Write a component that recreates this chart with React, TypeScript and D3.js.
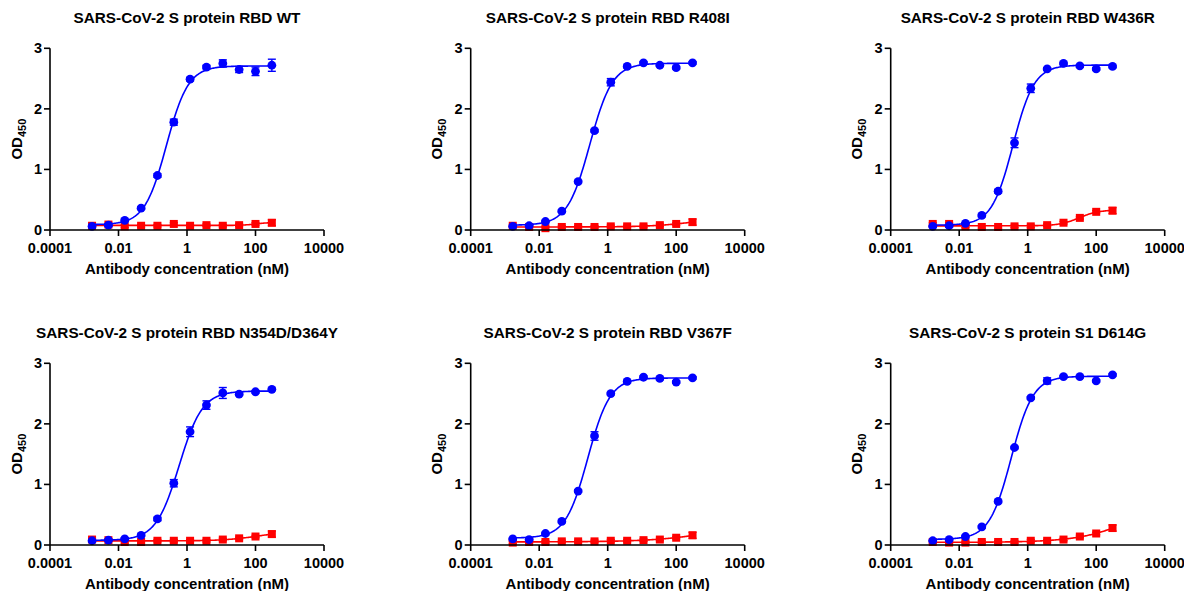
import React, { useMemo } from "react";
import * as d3 from "d3";

// 3-fold dilution series from 300 nM (nM)
const concentrations = [0.00169, 0.00508, 0.0152, 0.0457, 0.137, 0.412, 1.23, 3.7, 11.1, 33.3, 100, 300];

const titles = [
  "SARS-CoV-2 S protein RBD WT",
  "SARS-CoV-2 S protein RBD R408I",
  "SARS-CoV-2 S protein RBD W436R",
  "SARS-CoV-2 S protein RBD N354D/D364Y",
  "SARS-CoV-2 S protein RBD V367F",
  "SARS-CoV-2 S protein S1 D614G",
];

// Blue (antibody binding) OD450 means
const blueWT = [0.06, 0.08, 0.16, 0.36, 0.9, 1.78, 2.49, 2.69, 2.75, 2.65, 2.62, 2.72];
const blueR408I = [0.06, 0.07, 0.14, 0.31, 0.8, 1.64, 2.44, 2.7, 2.76, 2.72, 2.68, 2.76];
const blueW436R = [0.06, 0.07, 0.11, 0.24, 0.64, 1.44, 2.34, 2.66, 2.75, 2.71, 2.66, 2.7];
const blueN354D = [0.07, 0.08, 0.1, 0.16, 0.43, 1.02, 1.87, 2.31, 2.51, 2.49, 2.53, 2.57];
const blueV367F = [0.1, 0.09, 0.19, 0.39, 0.89, 1.8, 2.5, 2.7, 2.77, 2.75, 2.69, 2.76];
const blueD614G = [0.07, 0.09, 0.14, 0.3, 0.72, 1.61, 2.43, 2.71, 2.78, 2.78, 2.71, 2.81];

// Blue SEM
const blueErrWT = [0.02, 0.02, 0.02, 0.02, 0.03, 0.05, 0.03, 0.03, 0.06, 0.05, 0.07, 0.1];
const blueErrR408I = [0.01, 0.01, 0.02, 0.02, 0.02, 0.02, 0.06, 0.02, 0.02, 0.02, 0.02, 0.02];
const blueErrW436R = [0.01, 0.01, 0.01, 0.02, 0.03, 0.08, 0.07, 0.02, 0.02, 0.02, 0.02, 0.02];
const blueErrN354D = [0.01, 0.01, 0.02, 0.02, 0.03, 0.06, 0.08, 0.07, 0.09, 0.02, 0.02, 0.02];
const blueErrV367F = [0.01, 0.01, 0.02, 0.02, 0.02, 0.07, 0.02, 0.02, 0.02, 0.02, 0.02, 0.02];
const blueErrD614G = [0.01, 0.01, 0.02, 0.02, 0.02, 0.02, 0.02, 0.05, 0.02, 0.02, 0.02, 0.02];

// Red (control) OD450 means
const redWT = [0.07, 0.09, 0.06, 0.07, 0.07, 0.1, 0.07, 0.08, 0.07, 0.08, 0.1, 0.12];
const redR408I = [0.07, 0.05, 0.03, 0.05, 0.05, 0.05, 0.06, 0.06, 0.06, 0.08, 0.1, 0.13];
const redW436R = [0.1, 0.1, 0.06, 0.05, 0.05, 0.06, 0.06, 0.08, 0.12, 0.2, 0.3, 0.32];
const redN354D = [0.09, 0.08, 0.05, 0.05, 0.07, 0.07, 0.07, 0.07, 0.09, 0.11, 0.14, 0.18];
const redV367F = [0.04, 0.05, 0.05, 0.06, 0.06, 0.06, 0.07, 0.07, 0.08, 0.09, 0.12, 0.16];
const redD614G = [0.05, 0.04, 0.04, 0.05, 0.05, 0.05, 0.07, 0.07, 0.09, 0.14, 0.19, 0.28];

const redErr = [0.02, 0.02, 0.02, 0.02, 0.02, 0.02, 0.02, 0.02, 0.02, 0.02, 0.02, 0.05];

const blueSeries = [blueWT, blueR408I, blueW436R, blueN354D, blueV367F, blueD614G];
const blueErrSeries = [blueErrWT, blueErrR408I, blueErrW436R, blueErrN354D, blueErrV367F, blueErrD614G];
const redSeries = [redWT, redR408I, redW436R, redN354D, redV367F, redD614G];

const xTicks = [0.0001, 0.01, 1, 100, 10000];
const xTickLabels = ["0.0001", "0.01", "1", "100", "10000"];
const yTicks = [0, 1, 2, 3];

const BLUE = "#0000ff";
const RED = "#ff0000";
const FONT = "Liberation Sans, Arial, sans-serif";

// 4-parameter logistic fit (grid search over logEC50 and Hill, linear LS for bottom/top)
function fit4pl(xs: number[], ys: number[]) {
  const lx = xs.map((x) => Math.log10(x));
  const n = ys.length;
  let best = { b: 0, t: 0, c: 0, h: 1, sse: Infinity };
  for (let c = -3.5; c <= 3.5; c += 0.01) {
    for (let h = 0.4; h <= 3.0; h += 0.02) {
      const f = lx.map((x) => 1 / (1 + Math.pow(10, (c - x) * h)));
      const mf = d3.mean(f)!;
      const my = d3.mean(ys)!;
      let sfy = 0, sff = 0;
      for (let i = 0; i < n; i++) {
        sfy += (f[i] - mf) * (ys[i] - my);
        sff += (f[i] - mf) * (f[i] - mf);
      }
      if (sff < 1e-4) continue;
      const a = sfy / sff;
      if (a < 0) continue;
      const b = my - a * mf;
      let sse = 0;
      for (let i = 0; i < n; i++) {
        const r = ys[i] - (b + a * f[i]);
        sse += r * r;
      }
      if (sse < best.sse) best = { b, t: b + a, c, h, sse };
    }
  }
  return (x: number) => best.b + (best.t - best.b) / (1 + Math.pow(10, (best.c - Math.log10(x)) * best.h));
}

const panelX = [50, 470.7, 890.7];
const panelTop = [48.3, 363.3];
const PW = 274;
const PH = 181.7;

function Panel({ idx }: { idx: number }) {
  const col = idx % 3;
  const row = Math.floor(idx / 3);
  const x0 = panelX[col];
  const y0 = panelTop[row];
  const x = d3.scaleLog().domain([0.0001, 10000]).range([x0, x0 + PW]);
  const y = d3.scaleLinear().domain([0, 3]).range([y0 + PH, y0]);
  const blue = blueSeries[idx];
  const blueErr = blueErrSeries[idx];
  const red = redSeries[idx];

  const curves = useMemo(() => {
    const fb = fit4pl(concentrations, blue);
    const fr = fit4pl(concentrations, red);
    const lo = Math.log10(concentrations[0]);
    const hi = Math.log10(concentrations[concentrations.length - 1]);
    const pts = d3.range(0, 201).map((i) => Math.pow(10, lo + ((hi - lo) * i) / 200));
    const line = (fn: (v: number) => number) =>
      d3.line<number>().x((c) => x(c)).y((c) => y(fn(c)))(pts) || "";
    return { b: line(fb), r: line(fr) };
  }, [idx]);

  const axisY = y(0);
  const cx = (x0 + x0 + PW) / 2;

  return (
    <g>
      <text x={cx} y={y0 - 25} textAnchor="middle" fontFamily={FONT} fontWeight="bold" fontSize={15.3} fill="#000">
        {titles[idx]}
      </text>
      {/* red series */}
      <path d={curves.r} fill="none" stroke={RED} strokeWidth={1.6} />
      {red.map((v, i) => {
        const px = x(concentrations[i]);
        const e = redErr[i];
        return (
          <g key={"re" + i}>
            <line x1={px} x2={px} y1={y(v - e)} y2={y(v + e)} stroke={RED} strokeWidth={1.4} />
            <line x1={px - 4} x2={px + 4} y1={y(v + e)} y2={y(v + e)} stroke={RED} strokeWidth={1.4} />
            <line x1={px - 4} x2={px + 4} y1={y(v - e)} y2={y(v - e)} stroke={RED} strokeWidth={1.4} />
            <rect x={px - 4} y={y(v) - 4} width={8} height={8} fill={RED} />
          </g>
        );
      })}
      {/* blue series */}
      <path d={curves.b} fill="none" stroke={BLUE} strokeWidth={1.6} />
      {blue.map((v, i) => {
        const px = x(concentrations[i]);
        const e = blueErr[i];
        return (
          <g key={"be" + i}>
            <line x1={px} x2={px} y1={y(v - e)} y2={y(v + e)} stroke={BLUE} strokeWidth={1.4} />
            <line x1={px - 4} x2={px + 4} y1={y(v + e)} y2={y(v + e)} stroke={BLUE} strokeWidth={1.4} />
            <line x1={px - 4} x2={px + 4} y1={y(v - e)} y2={y(v - e)} stroke={BLUE} strokeWidth={1.4} />
            <circle cx={px} cy={y(v)} r={4.4} fill={BLUE} />
          </g>
        );
      })}
      {/* axes */}
      <line x1={x0} x2={x0 + PW} y1={axisY} y2={axisY} stroke="#000" strokeWidth={1.6} />
      <line x1={x0} x2={x0} y1={y(3)} y2={axisY} stroke="#000" strokeWidth={1.6} />
      {xTicks.map((t, i) => (
        <g key={"xt" + i}>
          <line x1={x(t)} x2={x(t)} y1={axisY} y2={axisY + 6} stroke="#000" strokeWidth={1.6} />
          <text x={x(t)} y={axisY + 23} textAnchor="middle" fontFamily={FONT} fontWeight="bold" fontSize={14.5} fill="#000">
            {xTickLabels[i]}
          </text>
        </g>
      ))}
      {yTicks.map((t) => (
        <g key={"yt" + t}>
          <line x1={x0 - 6} x2={x0} y1={y(t)} y2={y(t)} stroke="#000" strokeWidth={1.6} />
          <text x={x0 - 8} y={y(t) + 5} textAnchor="end" fontFamily={FONT} fontWeight="bold" fontSize={14.5} fill="#000">
            {t}
          </text>
        </g>
      ))}
      <text x={cx} y={axisY + 43.5} textAnchor="middle" fontFamily={FONT} fontWeight="bold" fontSize={15} fill="#000">
        Antibody concentration (nM)
      </text>
      <text
        transform={`translate(${x0 - 28.5},${y0 + PH / 2}) rotate(-90)`}
        textAnchor="middle"
        fontFamily={FONT}
        fontWeight="bold"
        fontSize={15}
        fill="#000"
      >
        OD<tspan dy={4} fontSize={11}>450</tspan>
      </text>
    </g>
  );
}

export default function App() {
  return (
    <svg width={1184} height={591} style={{ position: "absolute", left: 0, top: 0, background: "#fff" }}>
      <rect width={1184} height={591} fill="#fff" />
      {titles.map((_, i) => (
        <Panel key={i} idx={i} />
      ))}
    </svg>
  );
}
